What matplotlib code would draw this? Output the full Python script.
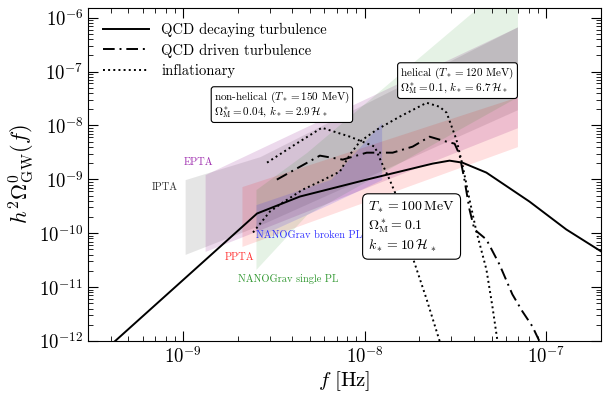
import numpy as np
import matplotlib
matplotlib.use("Agg")
import matplotlib.pyplot as plt
from matplotlib.ticker import FuncFormatter

plt.rcParams['font.family'] = 'serif'
plt.rcParams['font.serif'] = ['cmr10']
plt.rcParams['mathtext.fontset'] = 'cm'
plt.rcParams['axes.formatter.use_mathtext'] = True
plt.rcParams['axes.unicode_minus'] = False

# curves, stored as log10 values
lf_decay = [-9.44, -8.593, -8.357, -7.989, -7.626, -7.533, -7.462, -7.330, -7.093, -6.890, -6.698]
lo_decay = [-12.2, -9.635, -9.320, -9.006, -8.709, -8.654, -8.691, -8.876, -9.413, -9.931, -10.339]

lf_driven = [-8.484, -8.247, -8.121, -7.989, -7.846, -7.736, -7.643, -7.549, -7.505, -7.478, -7.451,
             -7.423, -7.396, -7.330, -7.258, -7.187, -7.132, -7.077, -7.022]
lo_driven = [-9.006, -8.561, -8.635, -8.506, -8.506, -8.394, -8.209, -8.302, -8.339, -8.543, -9.006,
             -9.561, -9.931, -10.117, -10.580, -11.135, -11.45, -11.728, -12.117]

lf_nonhel = [-8.538, -8.385, -8.236, -8.082, -7.945, -7.907, -7.863, -7.824, -7.780, -7.736, -7.659, -7.577]
lo_nonhel = [-8.691, -8.357, -8.043, -8.209, -8.394, -8.691, -9.006, -9.320, -9.839, -10.45, -11.228, -12.117]

lf_hel = [-8.615, -8.522, -8.451, -8.341, -8.247, -8.137, -8.082, -8.027, -7.934, -7.808, -7.659, -7.588,
          -7.549, -7.495, -7.462, -7.423, -7.385, -7.330, -7.297, -7.264]
lo_hel = [-9.987, -9.598, -9.431, -9.191, -9.043, -8.857, -8.543, -8.302, -8.080, -7.839, -7.580, -7.654,
          -7.765, -8.265, -8.728, -9.376, -9.969, -10.672, -11.357, -12.117]

# PTA bands: log10 f, lower and upper log10 Omega
ipta_f = [-8.989, -8.577, -7.159]
ipta_lo = [-10.394, -9.85, -7.709]
ipta_hi = [-9.006, -8.58, -6.172]

epta_f = [-8.879, -7.159]
epta_lo = [-10.339, -8.043]
epta_hi = [-8.913, -6.172]

ppta_f = [-8.676, -7.159]
ppta_lo = [-10.246, -8.394]
ppta_hi = [-9.135, -7.469]

ngs_f = [-8.599, -8.319, -7.159]
ngs_lo = [-10.672, -9.654, -7.469]
ngs_hi = [-9.191, -8.5, -5.191]

ngb_f = [-8.599, -8.187, -7.907]
ngb_lo = [-10.08, -9.45, -9.006]
ngb_hi = [-9.47, -9.0, -7.95]

x_ticks = [1e-9, 1e-8, 1e-7]
y_ticks = [1e-12, 1e-11, 1e-10, 1e-9, 1e-8, 1e-7, 1e-6]

def band(ax, lf, lo, hi, color, alpha):
    f = 10**np.array(lf)
    ax.fill_between(f, 10**np.array(lo), 10**np.array(hi), color=color, alpha=alpha, lw=0)

fig = plt.figure(figsize=(6.04, 3.96), dpi=100)
ax = fig.add_axes([0.146, 0.139, 0.849, 0.841])

band(ax, ipta_f, ipta_lo, ipta_hi, 'gray', 0.2)
band(ax, epta_f, epta_lo, epta_hi, 'purple', 0.15)
band(ax, ppta_f, ppta_lo, ppta_hi, 'red', 0.12)
band(ax, ngs_f, ngs_lo, ngs_hi, 'green', 0.1)
band(ax, ngb_f, ngb_lo, ngb_hi, 'blue', 0.12)

ax.plot(10**np.array(lf_decay), 10**np.array(lo_decay), color='black', lw=1.4,
        label='QCD decaying turbulence')
ax.plot(10**np.array(lf_driven), 10**np.array(lo_driven), color='black', lw=1.4,
        ls=(0, (6, 2.5, 1, 2.5)), label='QCD driven turbulence')
ax.plot(10**np.array(lf_nonhel), 10**np.array(lo_nonhel), color='black', lw=1.4, ls=':',
        label='inflationary')
ax.plot(10**np.array(lf_hel), 10**np.array(lo_hel), color='black', lw=1.4, ls=':')

ax.set_xscale('log')
ax.set_yscale('log')
ax.set_xlim(3e-10, 2e-7)
ax.set_ylim(1e-12, 10**-5.82)
ax.set_xticks(x_ticks)
ax.set_yticks(y_ticks)
pow_fmt = FuncFormatter(lambda v, p: r'$10^{%d}$' % round(np.log10(v)))
ax.xaxis.set_major_formatter(pow_fmt)
ax.yaxis.set_major_formatter(pow_fmt)
ax.tick_params(which='both', direction='in', top=True, right=True, labelsize=13.5)
ax.tick_params(which='major', length=7)
ax.tick_params(which='minor', length=3.5)
ax.set_xlabel(r'$f\ [{\rm Hz}]$', fontsize=15)
ax.set_ylabel(r'$h^2\Omega_{\rm GW}^0(f)$', fontsize=16)
ax.xaxis.set_label_coords(0.5, -0.085)
ax.yaxis.set_label_coords(-0.1, 0.5)

# band labels
ax.text(10**-8.918, 10**-8.691, 'EPTA', color='#a030b0', fontsize=7.5, ha='center', va='center')
ax.text(10**-9.099, 10**-9.154, 'IPTA', color='#333333', fontsize=7.5, ha='center', va='center')
ax.text(10**-8.692, 10**-10.45, 'PPTA', color='#ff3333', fontsize=7.5, ha='center', va='center')
ax.text(10**-8.599, 10**-10.043, 'NANOGrav broken PL', color='#3333ff', fontsize=7.5, ha='left', va='center')
ax.text(10**-8.698, 10**-10.857, 'NANOGrav single PL', color='#339933', fontsize=7.5, ha='left', va='center')

bbox = dict(boxstyle='round,pad=0.25', facecolor='white', edgecolor='black', lw=0.8)
ax.text(10**-8.456, 10**-7.617, 'non-helical ($T_* = 150$ MeV)\n'
        r'$\Omega_{\rm M}^* = 0.04$, $k_* = 2.9\,\mathcal{H}_*$',
        fontsize=8, ha='center', va='center', multialignment='left', linespacing=0.9, bbox=bbox)
ax.text(10**-7.489, 10**-7.172, 'helical ($T_* = 120$ MeV)\n'
        r'$\Omega_{\rm M}^* = 0.1$, $k_* = 6.7\,\mathcal{H}_*$',
        fontsize=8, ha='center', va='center', multialignment='left', linespacing=0.9, bbox=bbox)
ax.text(10**-7.742, 10**-9.876, r'$T_* = 100\,$MeV' '\n' r'$\Omega_{\rm M}^* = 0.1$' '\n'
        r'$k_* = 10\,\mathcal{H}_*$',
        fontsize=10, ha='center', va='center', multialignment='left',
        bbox=dict(boxstyle='round,pad=0.4', facecolor='white', edgecolor='black', lw=0.8))

ax.legend(loc='upper left', frameon=False, fontsize=10.5, handlelength=3.2,
          borderaxespad=0.6, labelspacing=0.45)

fig.savefig('out.png', dpi=100)
